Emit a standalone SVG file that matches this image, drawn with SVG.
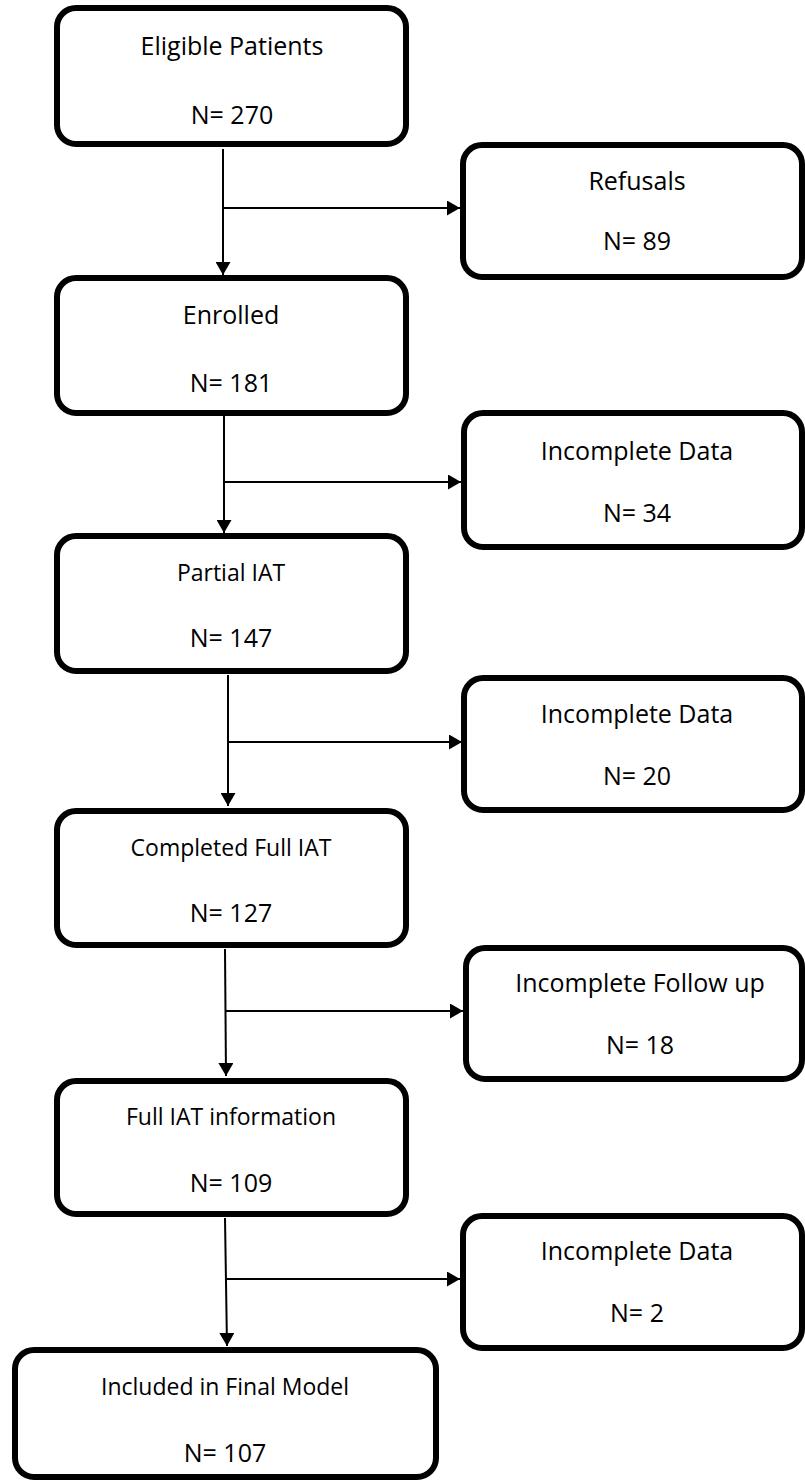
<svg xmlns="http://www.w3.org/2000/svg" width="805" height="1481" viewBox="0 0 805 1481">
<style>
.box{fill:#fff;stroke:#000;stroke-width:6}
.t{font-family:"Open Sans","Liberation Sans",sans-serif;font-size:25px;fill:#000;text-anchor:middle}
.s{font-size:23px}
.c{stroke:#000;stroke-width:2;fill:none}
</style>
<defs>
<marker id="ah" markerUnits="userSpaceOnUse" markerWidth="13" markerHeight="15" refX="13" refY="7.5" orient="auto">
<path d="M0,0 L13,7.5 L0,15 z" fill="#000"/>
</marker>
</defs>
<rect width="805" height="1481" fill="#fff"/>
<g id="connectors">
<line class="c" x1="223" y1="149" x2="223" y2="275" marker-end="url(#ah)"/>
<line class="c" x1="223" y1="208" x2="460" y2="208" marker-end="url(#ah)"/>
<line class="c" x1="224" y1="416" x2="224" y2="533" marker-end="url(#ah)"/>
<line class="c" x1="224" y1="482" x2="461" y2="482" marker-end="url(#ah)"/>
<line class="c" x1="228" y1="675" x2="228" y2="806" marker-end="url(#ah)"/>
<line class="c" x1="228" y1="742" x2="462" y2="742" marker-end="url(#ah)"/>
<line class="c" x1="225" y1="949" x2="226" y2="1076" marker-end="url(#ah)"/>
<line class="c" x1="225" y1="1011" x2="463" y2="1011" marker-end="url(#ah)"/>
<line class="c" x1="225" y1="1218" x2="227" y2="1346" marker-end="url(#ah)"/>
<line class="c" x1="225" y1="1279" x2="460" y2="1279" marker-end="url(#ah)"/>
</g>
<g id="eligible">
<rect class="box" x="57" y="8" width="349" height="136" rx="19"/>
<text class="t" x="232" y="55">Eligible Patients</text>
<text class="t" x="232" y="124">N= 270</text>
</g>
<g id="refusals">
<rect class="box" x="463" y="145" width="339" height="132" rx="19"/>
<text class="t" x="637" y="190">Refusals</text>
<text class="t" x="637" y="250">N= 89</text>
</g>
<g id="enrolled">
<rect class="box" x="57" y="278" width="349" height="135" rx="19"/>
<text class="t" x="231" y="324">Enrolled</text>
<text class="t" x="231" y="392">N= 181</text>
</g>
<g id="incomplete1">
<rect class="box" x="464" y="413" width="338" height="134" rx="19"/>
<text class="t" x="637" y="460">Incomplete Data</text>
<text class="t" x="637" y="522">N= 34</text>
</g>
<g id="partial">
<rect class="box" x="57" y="536" width="349" height="135" rx="19"/>
<text class="t s" x="231" y="581">Partial IAT</text>
<text class="t" x="231" y="647">N= 147</text>
</g>
<g id="incomplete2">
<rect class="box" x="464" y="678" width="338" height="132" rx="19"/>
<text class="t" x="637" y="723">Incomplete Data</text>
<text class="t" x="637" y="785">N= 20</text>
</g>
<g id="completed">
<rect class="box" x="57" y="811" width="349" height="134" rx="19"/>
<text class="t s" x="231" y="856">Completed Full IAT</text>
<text class="t" x="231" y="922">N= 127</text>
</g>
<g id="followup">
<rect class="box" x="466" y="948" width="336" height="131" rx="19"/>
<text class="t" x="640" y="992">Incomplete Follow up</text>
<text class="t" x="640" y="1054">N= 18</text>
</g>
<g id="fulliat">
<rect class="box" x="57" y="1081" width="349" height="133" rx="19"/>
<text class="t s" x="231" y="1125">Full IAT information</text>
<text class="t" x="231" y="1192">N= 109</text>
</g>
<g id="incomplete3">
<rect class="box" x="463" y="1216" width="339" height="132" rx="19"/>
<text class="t" x="637" y="1260">Incomplete Data</text>
<text class="t" x="637" y="1322">N= 2</text>
</g>
<g id="included">
<rect class="box" x="15" y="1350" width="421" height="127" rx="19"/>
<text class="t s" x="225" y="1395">Included in Final Model</text>
<text class="t" x="225" y="1462">N= 107</text>
</g>
</svg>
